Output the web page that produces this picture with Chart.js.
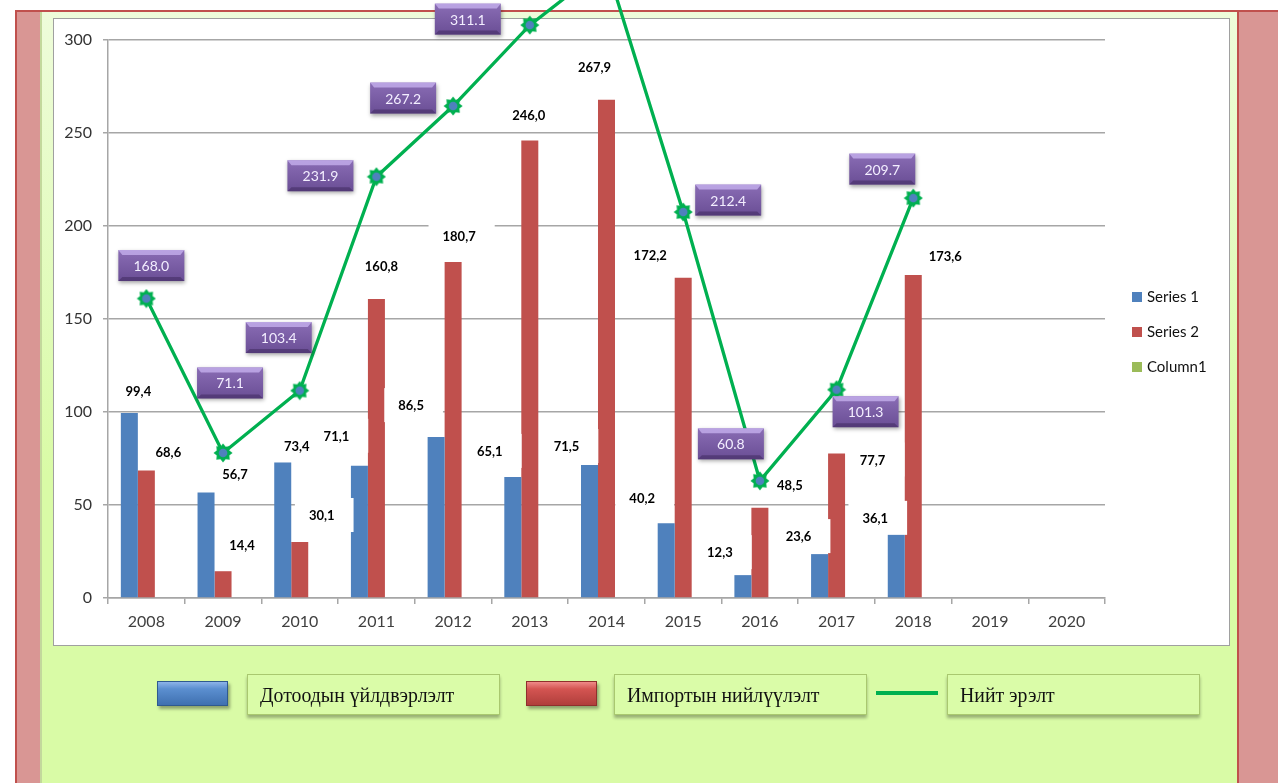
<!DOCTYPE html>
<html>
<head>
<meta charset="utf-8">
<script src="https://cdn.jsdelivr.net/npm/chart.js@4.4.1/dist/chart.umd.min.js"></script>
<style>
  body { margin: 0; width: 1278px; height: 783px; overflow: hidden; background: #fff; position: relative; }
  .abs { position: absolute; box-sizing: border-box; }
  #frame { left: 15px; top: 10px; width: 1263px; height: 773px; background: #d99694; border-left: 2px solid #c0504d; border-top: 2px solid #c0504d; }
  #panel { left: 40px; top: 12px; width: 1199px; height: 771px; background: linear-gradient(#eefcda, #d9fba6 60%); border-left: 2px solid #c3d89c; border-right: 2px solid #c0504d; }
  #plotbox { left: 53px; top: 18px; width: 1177px; height: 628px; background: #fff; border: 1.5px solid #a0a0a0; }
  #chart { position: absolute; left: 0; top: 0; z-index: 2; }
  .swatch { height: 25px; width: 71px; top: 681px; box-shadow: 2px 3px 3px rgba(0,0,0,0.35); z-index: 3; }
  .tagbox { top: 674px; height: 41px; background: #dafca8; border: 1.5px solid #a9c86f; box-shadow: 0 3px 3px rgba(0,0,0,0.3); z-index: 3; overflow: visible; }
  .tagbox span { position: absolute; left: 12px; top: 7px; font-family: "Liberation Serif", serif; font-size: 22px; color: #111; white-space: nowrap; transform-origin: 0 0; transform: scaleX(0.9); }
  .greenline { top: 691px; height: 4px; width: 62px; left: 876px; background: #00b050; z-index: 3; }
</style>
</head>
<body>
<div id="frame" class="abs"></div>
<div id="panel" class="abs"></div>
<div id="plotbox" class="abs"></div>
<canvas id="chart" width="1278" height="783"></canvas>
<script>
// --- data ---
const years = ['2008', '2009', '2010', '2011', '2012', '2013', '2014', '2015', '2016', '2017', '2018', '2019', '2020'];
const domestic = [99.4, 56.7, 73.4, 71.1, 86.5, 65.1, 71.5, 40.2, 12.3, 23.6, 36.1, null, null];
const imports = [68.6, 14.4, 30.1, 160.8, 180.7, 246.0, 267.9, 172.2, 48.5, 77.7, 173.6, null, null];
const column1 = [null, null, null, null, null, null, null, null, null, null, null, null, null];
const totalDemand = [161, 78, 111.5, 226.5, 264.5, 308, 340, 207.5, 63, 112, 215, null, null];
const totalLabels = ['168.0', '71.1', '103.4', '231.9', '267.2', '311.1', null, '212.4', '60.8', '101.3', '209.7', null, null];
const seriesNames = ['Series 1', 'Series 2', 'Column1'];
const legendNames = ['Дотоодын үйлдвэрлэлт', 'Импортын нийлүүлэлт', 'Нийт эрэлт'];

// where the labels sit relative to their bar top / line point (px)
const barLabelShift = [
  [[9, -21], [29, -18], [14, -15], [-23, -29], [-25, -31], [-23, -25], [-23, -18], [-24, -24], [-23, -22], [-21, -17], [-21, -12]],
  [[22, -18], [19, -25], [22, -26], [5, -32], [6, -25], [-1, -25], [-12, -32], [-33, -22], [30, -22], [36, 7], [32, -18]]
];
const tagShift = [[5, -33], [7, -70], [-21, -53], [-56, -1], [-50, -8], [-62, -6], null, [45, -12], [-29, -37], [29, 22], [-31, -29]];

const colors = { blue: '#4f81bd', red: '#c0504d', green: '#9bbb59', line: '#00b050' };

function makeStar() {
  const c = document.createElement('canvas');
  c.width = c.height = 20;
  const g = c.getContext('2d');
  g.beginPath();
  for (let k = 0; k < 16; k++) {
    const r = k % 2 ? 6.8 : 9.5;
    const a = k * Math.PI / 8 - Math.PI / 2;
    g.lineTo(10 + r * Math.cos(a), 10 + r * Math.sin(a));
  }
  g.closePath();
  g.fillStyle = colors.line;
  g.fill();
  g.beginPath();
  g.arc(10, 10, 4.3, 0, Math.PI * 2);
  g.fillStyle = colors.blue;
  g.fill();
  return c;
}
const star = makeStar();

function drawTag(ctx, cx, cy, text) {
  const w = 66, h = 31;
  const x = cx - w / 2, y = cy - h / 2;
  ctx.save();
  ctx.shadowColor = 'rgba(0,0,0,0.35)';
  ctx.shadowBlur = 4;
  ctx.shadowOffsetX = 1;
  ctx.shadowOffsetY = 2;
  const grad = ctx.createLinearGradient(0, y, 0, y + h);
  grad.addColorStop(0, '#8a6db5');
  grad.addColorStop(1, '#6a4e95');
  ctx.fillStyle = grad;
  ctx.fillRect(x, y, w, h);
  ctx.restore();
  ctx.save();
  ctx.fillStyle = 'rgba(205,185,245,0.7)';
  ctx.beginPath();
  ctx.moveTo(x, y); ctx.lineTo(x + w, y); ctx.lineTo(x + w - 4, y + 5); ctx.lineTo(x + 4, y + 5);
  ctx.closePath(); ctx.fill();
  ctx.fillStyle = 'rgba(60,38,90,0.5)';
  ctx.beginPath();
  ctx.moveTo(x, y + h); ctx.lineTo(x + w, y + h); ctx.lineTo(x + w - 4, y + h - 4); ctx.lineTo(x + 4, y + h - 4);
  ctx.closePath(); ctx.fill();
  ctx.font = '14px Lato';
  ctx.fillStyle = '#f3eeff';
  ctx.textAlign = 'center';
  ctx.textBaseline = 'middle';
  ctx.fillText(text, cx, cy + 1);
  ctx.restore();
}

const labelPlugin = {
  id: 'labels',
  afterDatasetDraw(chart, args) {
    const ctx = chart.ctx;
    if (args.index === 3) {
      // points above the plot area are skipped by the library; draw their markers here
      const area = chart.chartArea;
      args.meta.data.forEach(pt => {
        if (!pt.skip && pt.y < area.top) ctx.drawImage(star, pt.x - 10, pt.y - 10);
      });
      return;
    }
    if (args.index !== 0) return;
    // white label boxes + numbers over the bars (before the line is drawn)
    const items = [];
    ctx.save();
    ctx.font = 'bold 13px Lato';
    [0, 1].forEach(di => {
      const meta = chart.getDatasetMeta(di);
      chart.data.datasets[di].data.forEach((v, i) => {
        if (v == null) return;
        const bar = meta.data[i];
        const [dx, dy] = barLabelShift[di][i];
        const text = v.toFixed(1).replace('.', ',');
        items.push({ text, x: bar.x + dx, y: bar.y + dy, w: ctx.measureText(text).width });
      });
    });
    ctx.fillStyle = '#fff';
    items.forEach(it => ctx.fillRect(it.x - it.w / 2 - 14, it.y - 18, it.w + 33, 34));
    ctx.fillStyle = '#000';
    ctx.textAlign = 'center';
    ctx.textBaseline = 'middle';
    items.forEach(it => ctx.fillText(it.text, it.x, it.y));
    ctx.restore();
  },
  afterDatasetsDraw(chart) {
    const meta = chart.getDatasetMeta(3);
    meta.data.forEach((pt, i) => {
      if (!totalLabels[i] || !tagShift[i]) return;
      drawTag(chart.ctx, pt.x + tagShift[i][0], pt.y + tagShift[i][1], totalLabels[i]);
    });
  },
  afterDraw(chart) {
    // legend at the right: bar series only
    const ctx = chart.ctx;
    ctx.save();
    ctx.font = '15px Lato';
    ctx.textBaseline = 'middle';
    chart.data.datasets.filter(d => d.type === 'bar').forEach((d, k) => {
      const y = 297 + k * 35;
      ctx.fillStyle = d.backgroundColor;
      ctx.fillRect(1132, y - 5, 10, 10);
      ctx.fillStyle = '#111';
      ctx.fillText(d.label, 1147, y);
    });
    ctx.restore();
  }
};

const barCommon = { type: 'bar', categoryPercentage: 0.665, barPercentage: 1.0, borderWidth: 0, order: 1 };

new Chart(document.getElementById('chart'), {
  data: {
    labels: years,
    datasets: [
      { ...barCommon, label: seriesNames[0], data: domestic, backgroundColor: colors.blue },
      { ...barCommon, label: seriesNames[1], data: imports, backgroundColor: colors.red },
      { ...barCommon, label: seriesNames[2], data: column1, backgroundColor: colors.green },
      {
        type: 'line', label: legendNames[2], data: totalDemand, order: 0, clip: false,
        borderColor: colors.line, borderWidth: 3.3, pointStyle: star, pointRadius: 9
      }
    ]
  },
  options: {
    responsive: false,
    animation: false,
    events: [],
    layout: { padding: { left: 48, right: 173, top: 40, bottom: 135 } },
    plugins: { legend: { display: false }, tooltip: { enabled: false } },
    scales: {
      x: {
        offset: true,
        grid: { drawOnChartArea: false, tickLength: 6, color: '#a6a6a6', lineWidth: 1.5 },
        border: { color: '#a6a6a6', width: 1.5 },
        ticks: { color: '#404040', font: { family: 'Lato', size: 16 }, padding: 8, maxRotation: 0 },
        afterFit(s) { s.height = 50; }
      },
      y: {
        min: 0,
        max: 300,
        grid: { color: '#a6a6a6', lineWidth: 1.5, tickLength: 5 },
        border: { color: '#a6a6a6', width: 1.5 },
        ticks: { stepSize: 50, color: '#333', font: { family: 'Lato', size: 16 }, padding: 11 },
        afterFit(s) { s.width = 60; }
      }
    }
  },
  plugins: [labelPlugin]
});

// bottom legend
const bottomItems = [
  { swatch: 157, box: 247, fill: 'linear-gradient(#8db4e8 0%, #5b8fd0 30%, #3f70b0 100%)', edge: '#2f5a8f' },
  { swatch: 526, box: 614, fill: 'linear-gradient(#ef8a88 0%, #d45552 30%, #b03e3b 100%)', edge: '#8f2f2d' },
  { swatch: null, box: 947 }
];
bottomItems.forEach((it, k) => {
  if (it.swatch !== null) {
    const s = document.createElement('div');
    s.className = 'abs swatch';
    s.style.left = it.swatch + 'px';
    s.style.background = it.fill;
    s.style.border = '1px solid ' + it.edge;
    document.body.appendChild(s);
  } else {
    const g = document.createElement('div');
    g.className = 'abs greenline';
    document.body.appendChild(g);
  }
  const b = document.createElement('div');
  b.className = 'abs tagbox';
  b.style.left = it.box + 'px';
  b.style.width = '253px';
  const t = document.createElement('span');
  t.textContent = legendNames[k];
  b.appendChild(t);
  document.body.appendChild(b);
});
</script>
</body>
</html>
